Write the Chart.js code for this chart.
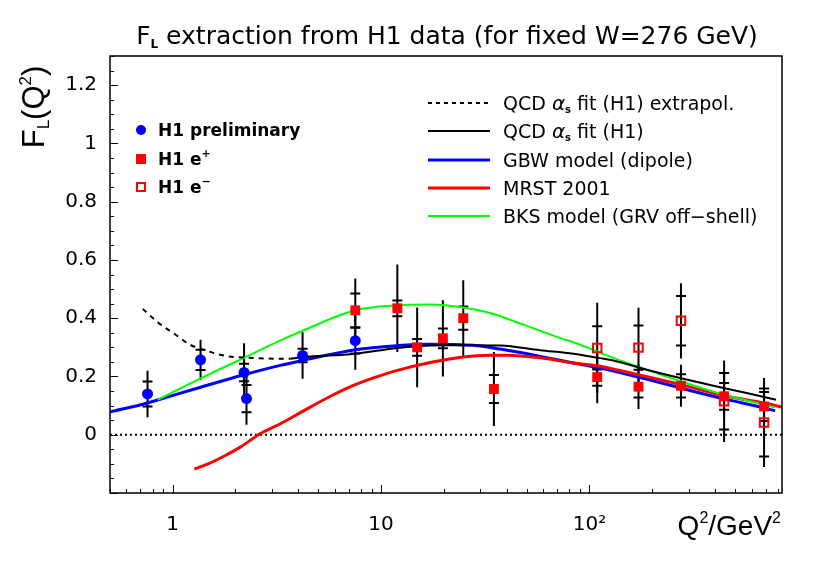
<!DOCTYPE html>
<html>
<head>
<meta charset="utf-8">
<script src="https://cdn.jsdelivr.net/npm/chart.js@4.4.1/dist/chart.umd.min.js"></script>
<style>
    html, body { margin: 0; padding: 0; background: #fff; }
    canvas { display: block; }
</style>
</head>
<body>
<canvas id="chartFL" width="817" height="565"></canvas>
<script>
const FONT = "'DejaVu Sans', 'Liberation Sans', sans-serif";
const FONT2 = "'Liberation Sans', Arial, sans-serif";

// H1 preliminary (blue dots): Q2, FL, stat error, total error
const prelimQ2 = [0.757, 1.36, 2.2, 2.26, 4.2, 7.52];
const prelimFL = [0.140, 0.257, 0.214, 0.124, 0.272, 0.323];
const prelimStat = [0.043, 0.035, 0.030, 0.047, 0.023, 0.044];
const prelimTot = [0.080, 0.069, 0.100, 0.090, 0.080, 0.100];

// H1 e+ (filled red squares)
const ePlusQ2 = [7.52, 11.97, 14.9, 19.8, 24.8, 34.8, 109, 172, 275, 443, 689];
const ePlusFL = [0.427, 0.434, 0.300, 0.331, 0.400, 0.157, 0.198, 0.165, 0.168, 0.132, 0.097];
const ePlusStat = [0.058, 0.027, 0.029, 0.034, 0.040, 0.048, 0.030, 0.037, 0.040, 0.046, 0.050];
const ePlusTot = [0.109, 0.150, 0.137, 0.131, 0.130, 0.127, 0.090, 0.077, 0.072, 0.080, 0.060];

// H1 e- (open red squares)
const eMinusQ2 = [109, 172, 275, 443, 689];
const eMinusFL = [0.298, 0.299, 0.391, 0.115, 0.042];
const eMinusStat = [0.074, 0.076, 0.085, 0.097, 0.117];
const eMinusTot = [0.155, 0.137, 0.129, 0.140, 0.153];

// model curves
const qcdExtrapQ2 = [0.718, 0.854, 1.03, 1.21, 1.43, 1.78, 2.31, 3.27, 3.67];
const qcdExtrapFL = [0.432, 0.384, 0.344, 0.309, 0.290, 0.271, 0.264, 0.261, 0.261];

const qcdQ2 = [3.67, 4.2, 7.52, 11.97, 17.2, 21.5, 27.8, 37.3, 58.0, 83.8, 112.5, 130.3, 188.4, 272.3, 393.6, 568.7, 786];
const qcdFL = [0.261, 0.266, 0.278, 0.298, 0.306, 0.307, 0.307, 0.306, 0.290, 0.278, 0.263, 0.255, 0.223, 0.195, 0.168, 0.143, 0.120];

const gbwQ2 = [0.5, 0.757, 0.854, 1.36, 2.2, 3.28, 4.2, 7.52, 11.97, 17.2, 27.7, 37.3, 58, 83.8, 112.5, 171.7, 275, 443, 689, 778];
const gbwFL = [0.078, 0.109, 0.120, 0.163, 0.206, 0.238, 0.255, 0.292, 0.306, 0.311, 0.307, 0.294, 0.269, 0.246, 0.229, 0.198, 0.160, 0.123, 0.092, 0.082];

const mrstQ2 = [1.27, 1.48, 1.78, 2.14, 2.58, 3.27, 4.2, 5.71, 7.52, 9.91, 11.97, 17.2, 24.8, 33.4, 40.2, 58, 83.8, 108.9, 171.7, 275, 443, 689, 840];
const mrstFL = [-0.118, -0.100, -0.072, -0.040, 0.000, 0.037, 0.080, 0.132, 0.172, 0.203, 0.221, 0.248, 0.267, 0.273, 0.273, 0.264, 0.246, 0.237, 0.206, 0.172, 0.134, 0.109, 0.095];

const bksQ2 = [0.847, 1.23, 1.66, 2.2, 3.27, 4.2, 7.52, 11.97, 17.2, 24.8, 33.4, 48.2, 69.8, 90.2, 130.3, 171.7, 275, 443, 689, 778];
const bksFL = [0.120, 0.178, 0.223, 0.264, 0.323, 0.357, 0.427, 0.444, 0.447, 0.437, 0.418, 0.378, 0.336, 0.309, 0.264, 0.233, 0.183, 0.137, 0.103, 0.094];

const zeroQ2 = [0.5, 840];
const zeroFL = [0, 0];

// axes
const xMin = 0.5, xMax = 840;
const yMin = -0.2, yMax = 1.3;
const yTickValues = [0, 0.2, 0.4, 0.6, 0.8, 1, 1.2];
const xTickValues = [1, 10, 100];
const xTickLabels = ["1", "10", "10\u00b2"];

const pts = (xs, ys) => xs.map((x, i) => ({ x, y: ys[i] }));

function richText(ctx, x, y, parts, align) {
    let w = 0;
    parts.forEach((p) => {
        ctx.font = p.font;
        w += ctx.measureText(p.t).width;
    });
    let cx = align === "center" ? x - w / 2 : align === "right" ? x - w : x;
    parts.forEach((p) => {
        ctx.font = p.font;
        ctx.fillText(p.t, cx, y + (p.dy || 0));
        cx += ctx.measureText(p.t).width;
    });
}

function drawErrors(ctx, xs, ys, q2, fl, stat, tot) {
    ctx.strokeStyle = "#000";
    ctx.lineWidth = 2;
    q2.forEach((q, i) => {
        const px = xs.getPixelForValue(q);
        ctx.beginPath();
        ctx.moveTo(px, ys.getPixelForValue(fl[i] + tot[i]));
        ctx.lineTo(px, ys.getPixelForValue(fl[i] - tot[i]));
        [fl[i] + stat[i], fl[i] - stat[i]].forEach((v) => {
            const py = ys.getPixelForValue(v);
            ctx.moveTo(px - 5, py);
            ctx.lineTo(px + 5, py);
        });
        ctx.stroke();
    });
}

const decorPlugin = {
    id: "decor",
    beforeDatasetsDraw(chart) {
        const ctx = chart.ctx;
        const xs = chart.scales.x, ys = chart.scales.y;
        ctx.save();
        drawErrors(ctx, xs, ys, prelimQ2, prelimFL, prelimStat, prelimTot);
        drawErrors(ctx, xs, ys, ePlusQ2, ePlusFL, ePlusStat, ePlusTot);
        drawErrors(ctx, xs, ys, eMinusQ2, eMinusFL, eMinusStat, eMinusTot);
        ctx.restore();
    },
    afterDraw(chart) {
        const ctx = chart.ctx;
        const a = chart.chartArea;
        const xs = chart.scales.x, ys = chart.scales.y;
        ctx.save();

        // frame
        ctx.strokeStyle = "#000";
        ctx.lineWidth = 1.5;
        ctx.strokeRect(a.left, a.top, a.right - a.left, a.bottom - a.top);

        // inward ticks
        ctx.lineWidth = 1;
        ctx.beginPath();
        for (let k = 0; k <= 30; k++) {
            const v = yMin + k * 0.05;
            const py = Math.round(ys.getPixelForValue(v)) + 0.5;
            const major = k % 4 === 0;
            ctx.moveTo(a.left, py);
            ctx.lineTo(a.left + (major ? 8 : 4), py);
        }
        for (let d = 0.1; d < 1000; d *= 10) {
            for (let m = 1; m <= 9; m++) {
                const v = d * m;
                if (v < xMin || v > xMax) continue;
                const px = Math.round(xs.getPixelForValue(v)) + 0.5;
                ctx.moveTo(px, a.bottom);
                ctx.lineTo(px, a.bottom - (m === 1 ? 8 : 4));
            }
        }
        ctx.stroke();

        ctx.fillStyle = "#000";
        ctx.textBaseline = "alphabetic";

        // title
        richText(ctx, 447, 44, [
            { t: "F", font: `25px ${FONT}` },
            { t: "L", font: `bold 12px ${FONT}`, dy: 4 },
            { t: " extraction from H1 data (for fixed W=276 GeV)", font: `25px ${FONT}` },
        ], "center");

        // y title
        ctx.save();
        ctx.translate(44, 107);
        ctx.rotate(-Math.PI / 2);
        richText(ctx, 0, 0, [
            { t: "F", font: `31px ${FONT2}` },
            { t: "L", font: `17px ${FONT2}`, dy: 5 },
            { t: "(Q", font: `31px ${FONT2}` },
            { t: "2", font: `17px ${FONT2}`, dy: -13 },
            { t: ")", font: `31px ${FONT2}` },
        ], "center");
        ctx.restore();

        // x title
        richText(ctx, 781, 535, [
            { t: "Q", font: `28px ${FONT2}` },
            { t: "2", font: `16px ${FONT2}`, dy: -12 },
            { t: "/GeV", font: `28px ${FONT2}` },
            { t: "2", font: `16px ${FONT2}`, dy: -12 },
        ], "right");

        // left legend (data)
        const lx = 141;
        const rows = [130, 159, 187];
        ctx.fillStyle = "#0000ff";
        ctx.beginPath();
        ctx.arc(lx, rows[0], 5, 0, Math.PI * 2);
        ctx.fill();
        ctx.fillStyle = "#ff0000";
        ctx.fillRect(lx - 5, rows[1] - 5, 10, 10);
        ctx.strokeStyle = "#ff0000";
        ctx.lineWidth = 2;
        ctx.strokeRect(lx - 4, rows[2] - 4, 8, 8);
        ctx.fillStyle = "#000";
        const bold = `bold 17px ${FONT}`;
        const boldSup = `bold 11px ${FONT}`;
        richText(ctx, 158, rows[0] + 6, [{ t: "H1 preliminary", font: bold }], "left");
        richText(ctx, 158, rows[1] + 6, [{ t: "H1 e", font: bold }, { t: "+", font: boldSup, dy: -8 }], "left");
        richText(ctx, 158, rows[2] + 6, [{ t: "H1 e", font: bold }, { t: "\u2212", font: boldSup, dy: -8 }], "left");

        // right legend (curves)
        const curveRows = [
            { y: 103, color: "#000", dash: [4, 4], w: 2, label: "extrapol" },
            { y: 131, color: "#000", dash: [], w: 2, label: "qcd" },
            { y: 160, color: "#0000ff", dash: [], w: 3, text: "GBW model (dipole)" },
            { y: 188, color: "#ff0000", dash: [], w: 3, text: "MRST 2001" },
            { y: 216, color: "#00ff00", dash: [], w: 2, text: "BKS model (GRV off\u2212shell)" },
        ];
        const f = `19px ${FONT}`;
        curveRows.forEach((r) => {
            ctx.strokeStyle = r.color;
            ctx.lineWidth = r.w;
            ctx.setLineDash(r.dash);
            ctx.beginPath();
            ctx.moveTo(428, r.y);
            ctx.lineTo(490, r.y);
            ctx.stroke();
            ctx.setLineDash([]);
            ctx.fillStyle = "#000";
            if (r.text) {
                richText(ctx, 503, r.y + 7, [{ t: r.text, font: f }], "left");
            } else {
                const parts = [
                    { t: "QCD ", font: f },
                    { t: "\u03b1", font: `italic 20px ${FONT}` },
                    { t: "s", font: `bold 10px ${FONT}`, dy: 3 },
                    { t: r.label === "extrapol" ? " fit (H1) extrapol." : " fit (H1)", font: f },
                ];
                richText(ctx, 503, r.y + 7, parts, "left");
            }
        });

        ctx.restore();
    },
};

const curve = (label, xs, ys, color, width, dash) => ({
    label,
    data: pts(xs, ys),
    showLine: true,
    borderColor: color,
    borderWidth: width,
    borderDash: dash || [],
    pointRadius: 0,
    cubicInterpolationMode: "monotone",
    fill: false,
});

new Chart(document.getElementById("chartFL"), {
    type: "scatter",
    data: {
        datasets: [
            {
                label: "H1 preliminary",
                data: pts(prelimQ2, prelimFL),
                pointStyle: "circle",
                pointRadius: 5.5,
                backgroundColor: "#0000ff",
                borderColor: "#0000ff",
                borderWidth: 0,
                order: 1,
            },
            {
                label: "H1 e+",
                data: pts(ePlusQ2, ePlusFL),
                pointStyle: "rect",
                pointRadius: 7,
                backgroundColor: "#ff0000",
                borderColor: "#ff0000",
                borderWidth: 0,
                order: 1,
            },
            {
                label: "H1 e-",
                data: pts(eMinusQ2, eMinusFL),
                pointStyle: "rect",
                pointRadius: 6,
                backgroundColor: "rgba(0,0,0,0)",
                borderColor: "#ff0000",
                borderWidth: 2,
                order: 1,
            },
            Object.assign(curve("QCD fit extrapol.", qcdExtrapQ2, qcdExtrapFL, "#000", 2, [5, 5]), { order: 2 }),
            Object.assign(curve("QCD fit", qcdQ2, qcdFL, "#000", 2), { order: 2 }),
            Object.assign(curve("BKS", bksQ2, bksFL, "#00ff00", 2), { order: 2 }),
            Object.assign(curve("MRST 2001", mrstQ2, mrstFL, "#ff0000", 3), { order: 2 }),
            Object.assign(curve("GBW", gbwQ2, gbwFL, "#0000ff", 3), { order: 2 }),
            Object.assign(curve("zero", zeroQ2, zeroFL, "#000", 2, [2, 3]), { order: 3 }),
        ],
    },
    options: {
        responsive: false,
        animation: false,
        devicePixelRatio: 1,
        layout: { padding: { top: 56, right: 35, left: 0, bottom: 0 } },
        plugins: {
            legend: { display: false },
            tooltip: { enabled: false },
        },
        scales: {
            x: {
                type: "logarithmic",
                min: xMin,
                max: xMax,
                afterFit: (s) => { s.height = 72; },
                afterBuildTicks: (s) => { s.ticks = xTickValues.map((v) => ({ value: v })); },
                grid: { display: false },
                border: { display: false },
                ticks: {
                    color: "#000",
                    font: { family: FONT, size: 20 },
                    padding: 12,
                    maxRotation: 0,
                    callback: (v) => xTickLabels[xTickValues.indexOf(v)] ?? "",
                },
            },
            y: {
                type: "linear",
                min: yMin,
                max: yMax,
                afterFit: (s) => { s.width = 110; },
                afterBuildTicks: (s) => { s.ticks = yTickValues.map((v) => ({ value: v })); },
                grid: { display: false },
                border: { display: false },
                ticks: {
                    color: "#000",
                    font: { family: FONT, size: 20 },
                    padding: 5,
                    callback: (v) => String(Math.round(v * 10) / 10),
                },
            },
        },
    },
    plugins: [decorPlugin],
});
</script>
</body>
</html>
